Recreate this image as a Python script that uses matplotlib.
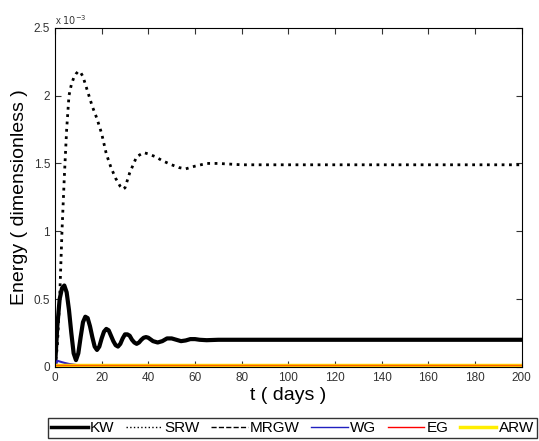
import matplotlib.pyplot as plt
import numpy as np
from matplotlib.ticker import FuncFormatter
from matplotlib.lines import Line2D

plt.rcParams['font.family'] = ['Liberation Sans', 'DejaVu Sans']

# valores en unidades de 1e-3
t_kw = [0, 1, 2, 3, 4, 5, 6, 7, 8, 9, 10, 11, 12, 13, 14, 15, 16, 17, 18, 19, 20,
        21, 22, 23, 24, 25, 26, 27, 28, 29, 30, 31, 32, 33, 34, 35, 36, 37, 38, 39,
        40, 42, 44, 46, 48, 50, 52, 54, 56, 58, 60, 62, 65, 70, 80, 200]
kw = [0.0, 0.3, 0.5, 0.58, 0.6, 0.55, 0.42, 0.25, 0.1, 0.05, 0.1, 0.22, 0.33, 0.37,
      0.36, 0.3, 0.22, 0.15, 0.125, 0.15, 0.21, 0.26, 0.28, 0.27, 0.23, 0.19, 0.16,
      0.15, 0.17, 0.21, 0.24, 0.24, 0.23, 0.2, 0.18, 0.17, 0.18, 0.2, 0.215, 0.22,
      0.215, 0.19, 0.18, 0.19, 0.21, 0.21, 0.2, 0.19, 0.195, 0.205, 0.205, 0.2,
      0.197, 0.2, 0.2, 0.2]

t_srw = [0, 1, 2, 3, 4, 5, 6, 7, 8, 9, 10, 11, 12, 14, 16, 18, 20, 22, 24, 26, 28,
         29, 30, 32, 35, 38, 40, 43, 46, 50, 53, 56, 60, 65, 70, 80, 200]
srw = [0.0, 0.15, 0.5, 1.0, 1.4, 1.75, 2.0, 2.08, 2.13, 2.16, 2.18, 2.17, 2.14,
       2.03, 1.92, 1.83, 1.72, 1.57, 1.47, 1.39, 1.33, 1.31, 1.32, 1.43, 1.55, 1.58,
       1.57, 1.55, 1.52, 1.49, 1.47, 1.46, 1.48, 1.50, 1.50, 1.49, 1.49]

t_wg = [0, 1, 2, 3, 4, 6, 8, 10, 200]
wg = [0.0, 0.045, 0.04, 0.035, 0.03, 0.022, 0.017, 0.012, 0.01]

t_flat = [0, 200]
mrgw = [0.008, 0.008]
eg = [0.014, 0.014]
arw = [0.014, 0.014]

escala = 1e-3

fig = plt.figure(figsize=(5.39, 4.41), dpi=100)
ax = fig.add_axes([0.102, 0.168, 0.866, 0.769])

ax.plot(t_srw, np.array(srw) * escala, color='black', linestyle=':', linewidth=2)
ax.plot(t_kw, np.array(kw) * escala, color='black', linewidth=3)
ax.plot(t_flat, np.array(mrgw) * escala, color='black', linestyle='--', linewidth=1)
ax.plot(t_wg, np.array(wg) * escala, color='#3020c0', linewidth=1.5)
ax.plot(t_flat, np.array(arw) * escala, color='#ffdd00', linewidth=2.5)
ax.plot(t_flat, np.array(eg) * escala, color='#ff6000', linewidth=1)

ax.set_xlim(0, 200)
ax.set_ylim(0, 2.5e-3)
ax.set_xticks(range(0, 201, 20))
ax.set_yticks(np.arange(0, 2.51e-3, 0.5e-3))
ax.yaxis.set_major_formatter(FuncFormatter(lambda v, p: f'{v * 1e3:g}'))
ax.tick_params(direction='in', top=True, right=True, labelsize=8.5, colors='#333333',
               length=4)
for s in ax.spines.values():
    s.set_color('black')
ax.text(0, 1.008, r'x $10^{-3}$', transform=ax.transAxes, fontsize=7, color='#333333')

ax.set_xlabel('t ( days )', fontsize=14, labelpad=2)
ax.set_ylabel('Energy ( dimensionless )', fontsize=14, labelpad=4)

handles = [
    Line2D([], [], color='black', linewidth=2.5),
    Line2D([], [], color='black', linestyle=':', linewidth=1),
    Line2D([], [], color='black', linestyle='--', linewidth=1),
    Line2D([], [], color='#2020c0', linewidth=1),
    Line2D([], [], color='red', linewidth=1),
    Line2D([], [], color='#ffee00', linewidth=2.5),
]
nombres = ['KW', 'SRW', 'MRGW', 'WG', 'EG', 'ARW']
leg = fig.legend(handles, nombres, loc='lower left', ncol=6,
                 bbox_to_anchor=(0.089, 0.007, 0.907, 0.066), mode='expand',
                 fontsize=11, frameon=True, fancybox=False, edgecolor='black',
                 handlelength=2.4, handletextpad=0.15, columnspacing=0.5,
                 borderpad=0.2, borderaxespad=0)
leg.get_frame().set_linewidth(1)

fig.savefig('out.png', dpi=100)
